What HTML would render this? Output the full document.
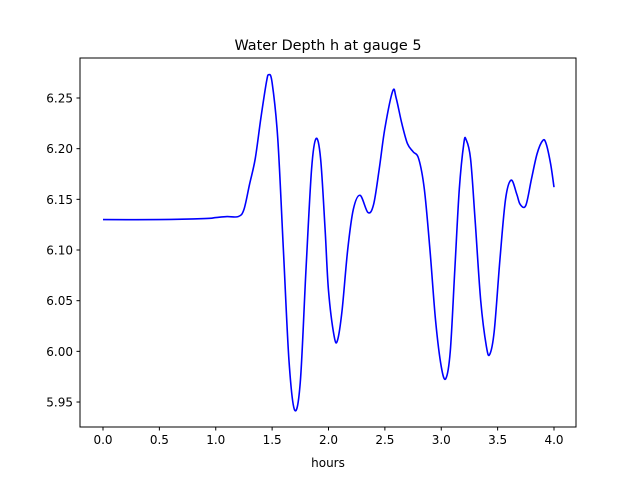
<!DOCTYPE html>
<html><head><meta charset="utf-8"><style>
body{margin:0;background:#fff;}
svg{display:block;font-family:"DejaVu Sans","Liberation Sans",sans-serif;}
</style></head><body>
<svg id="chart" width="640" height="480" viewBox="0 0 640 480">
<rect width="640" height="480" fill="#fff"/>
<text x="328" y="50" text-anchor="middle" font-size="14.4">Water Depth h at gauge 5</text>
<g id="plot"></g>
<rect x="80" y="58" width="496" height="369" fill="none" stroke="#000" stroke-width="1"/>
<text x="328" y="467" text-anchor="middle" font-size="12">hours</text>
</svg>
<script>
const hours=[0,0.5,0.9,1.0,1.1,1.2,1.25,1.3,1.35,1.4,1.45,1.47,1.5,1.55,1.6,1.65,1.7,1.75,1.8,1.85,1.89,1.93,1.97,2.0,2.05,2.08,2.12,2.17,2.22,2.28,2.35,2.4,2.45,2.5,2.57,2.6,2.65,2.7,2.75,2.8,2.85,2.9,2.95,3.0,3.04,3.08,3.12,3.16,3.2,3.22,3.26,3.3,3.35,3.4,3.43,3.47,3.52,3.57,3.62,3.67,3.7,3.75,3.8,3.85,3.9,3.93,3.97,4.0];
const depth=[6.130,6.130,6.131,6.132,6.133,6.133,6.140,6.165,6.19,6.23,6.266,6.273,6.265,6.21,6.10,5.99,5.942,5.97,6.08,6.18,6.21,6.19,6.12,6.06,6.015,6.011,6.04,6.10,6.14,6.154,6.137,6.145,6.18,6.22,6.257,6.25,6.225,6.205,6.197,6.19,6.16,6.10,6.03,5.985,5.973,6.00,6.08,6.16,6.205,6.209,6.19,6.13,6.05,6.005,5.997,6.02,6.09,6.15,6.169,6.155,6.145,6.144,6.17,6.195,6.208,6.205,6.185,6.162];
const xTicks=[0,0.5,1,1.5,2,2.5,3,3.5,4];
const xTickLabels=["0.0","0.5","1.0","1.5","2.0","2.5","3.0","3.5","4.0"];
const yTicks=[5.95,6.00,6.05,6.10,6.15,6.20,6.25];
const yTickLabels=["5.95","6.00","6.05","6.10","6.15","6.20","6.25"];
const xs=v=>103+v*112.75;
const ys=v=>98+(6.25-v)/0.05*50.67;
const g=document.getElementById('plot');
const NS='http://www.w3.org/2000/svg';
function mk(t,a){const e=document.createElementNS(NS,t);for(const k in a)e.setAttribute(k,a[k]);g.appendChild(e);return e;}
xTicks.forEach((t,i)=>{
 const l=mk('line',{x1:xs(t),x2:xs(t),y1:427,y2:430.5,stroke:'#000'});
 
 
 const tx=mk('text',{x:xs(t),y:444,'text-anchor':'middle','font-size':'12'});
 tx.textContent=xTickLabels[i];
 
 
});
yTicks.forEach((t,i)=>{
 const l=mk('line',{x1:76.5,x2:80,y1:ys(t),y2:ys(t),stroke:'#000'});
 
 
 const tx=mk('text',{x:73,y:ys(t)+4.5,'text-anchor':'end','font-size':'12'});
 tx.textContent=yTickLabels[i];
 
 
});
const pts=hours.map((h,i)=>[xs(h),ys(depth[i])]);
let d='M'+pts[0][0]+','+pts[0][1];
for(let i=0;i<pts.length-1;i++){
 const p0=pts[Math.max(0,i-1)],p1=pts[i],p2=pts[i+1],p3=pts[Math.min(pts.length-1,i+2)];
 const c1x=p1[0]+(p2[0]-p0[0])/6,c1y=p1[1]+(p2[1]-p0[1])/6;
 const c2x=p2[0]-(p3[0]-p1[0])/6,c2y=p2[1]-(p3[1]-p1[1])/6;
 d+=` C${c1x},${c1y} ${c2x},${c2y} ${p2[0]},${p2[1]}`;
}
const line=mk('path',{d:d,fill:'none',stroke:'#0000ff','stroke-width':'1.6'});


</script>
</body></html>
